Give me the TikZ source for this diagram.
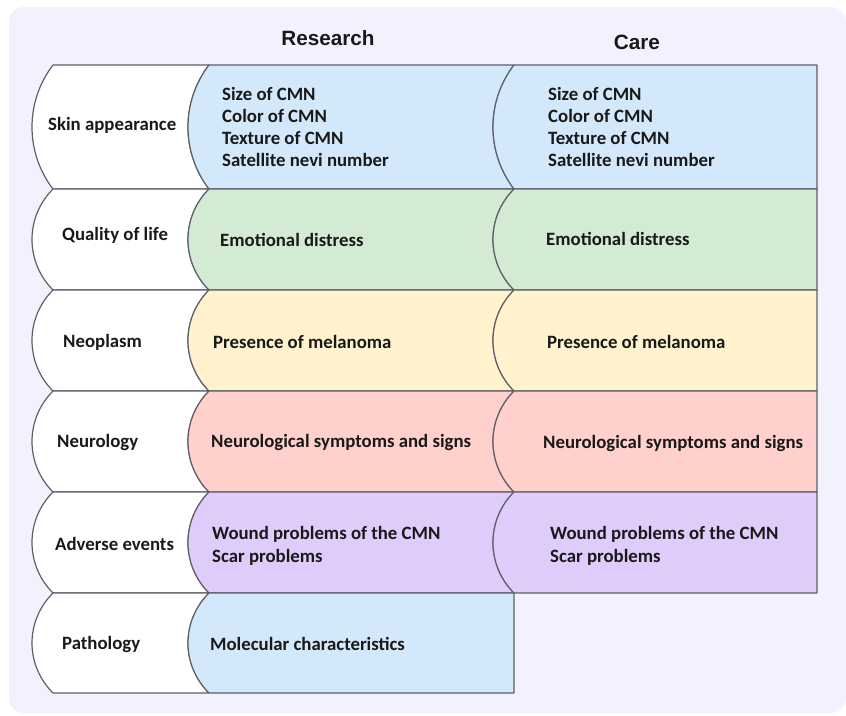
\documentclass[tikz,border=0pt]{standalone}
\usepackage{fontspec}
\newfontfamily\cellfont{Carlito}
\newfontfamily\headfont{Liberation Sans}
\definecolor{bgcol}{HTML}{F3F1FD}
\definecolor{linecol}{HTML}{5F5F6A}
\definecolor{cblue}{HTML}{D4E8FB}
\definecolor{cgreen}{HTML}{D3EBD3}
\definecolor{cyellow}{HTML}{FFF2CC}
\definecolor{cpink}{HTML}{FFD0CC}
\definecolor{cpurple}{HTML}{E0CCFB}
\tikzset{
  cell/.style={draw=linecol, line width=1.2pt, line join=round},
  celltext/.style={font=\cellfont\bfseries\fontsize{18.8}{22.3}\selectfont, anchor=west, align=left, inner sep=0pt, text=black!90},
  headtext/.style={font=\headfont\bfseries\fontsize{20.7}{24}\selectfont, inner sep=0pt, text=black!90}
}
\begin{document}
\begin{tikzpicture}[x=1pt,y=-1pt]
\useasboundingbox (0,0) rectangle (846,715);
\fill[white] (0,0) rectangle (846,715);
\fill[bgcol, rounded corners=15pt] (9,7) rectangle (846,713);

\foreach \t/\b/\k/\col in {65/189/36.5/cblue, 189/290/28/cgreen, 290/391/28/cyellow, 391/492/28/cpink, 492/593/28/cpurple} {
  \filldraw[cell, fill=white] (53,\t) -- (209,\t) .. controls +(-28,\k) and +(-28,-\k) .. (209,\b) -- (53,\b) .. controls +(-28,-\k) and +(-28,\k) .. (53,\t) -- cycle;
  \filldraw[cell, fill=\col] (209,\t) -- (514,\t) .. controls +(-28,\k) and +(-28,-\k) .. (514,\b) -- (209,\b) .. controls +(-28,-\k) and +(-28,\k) .. (209,\t) -- cycle;
  \filldraw[cell, fill=\col] (514,\t) -- (817,\t) -- (817,\b) -- (514,\b) .. controls +(-28,-\k) and +(-28,\k) .. (514,\t) -- cycle;
}
% pathology row
\filldraw[cell, fill=white] (53,593) -- (209,593) .. controls +(-28,28) and +(-28,-28) .. (209,693) -- (53,693) .. controls +(-28,-28) and +(-28,28) .. (53,593) -- cycle;
\filldraw[cell, fill=cblue] (209,593) -- (514,593) -- (514,693) -- (209,693) .. controls +(-28,-28) and +(-28,28) .. (209,593) -- cycle;

% headings
\node[headtext] (hres) at (328,38) {Research};
\node[headtext] (hcare) at (637,42) {Care};

% labels
\node[celltext] (l1) at (48,125) {Skin appearance};
\node[celltext] (l2) at (62,235) {Quality of life};
\node[celltext] (l3) at (63,342) {Neoplasm};
\node[celltext] (l4) at (57,442) {Neurology};
\node[celltext] (l5) at (55,544) {Adverse events};
\node[celltext] (l6) at (62,644) {Pathology};

% research
\node[celltext] (r1) at (222,127) {Size of CMN\\Color of CMN\\Texture of CMN\\Satellite nevi number};
\node[celltext] (r2) at (220,240) {Emotional distress};
\node[celltext] (r3) at (213,342) {Presence of melanoma};
\node[celltext] (r4) at (211,442) {Neurological symptoms and signs};
\node[celltext] (r5) at (212,546) {Wound problems of the CMN\\Scar problems};
\node[celltext] (r6) at (210,644) {Molecular characteristics};

% care
\node[celltext] (c1) at (548,127) {Size of CMN\\Color of CMN\\Texture of CMN\\Satellite nevi number};
\node[celltext] (c2) at (546,239) {Emotional distress};
\node[celltext] (c3) at (547,342) {Presence of melanoma};
\node[celltext] (c4) at (543,443) {Neurological symptoms and signs};
\node[celltext] (c5) at (550,546) {Wound problems of the CMN\\Scar problems};
\end{tikzpicture}
\end{document}
